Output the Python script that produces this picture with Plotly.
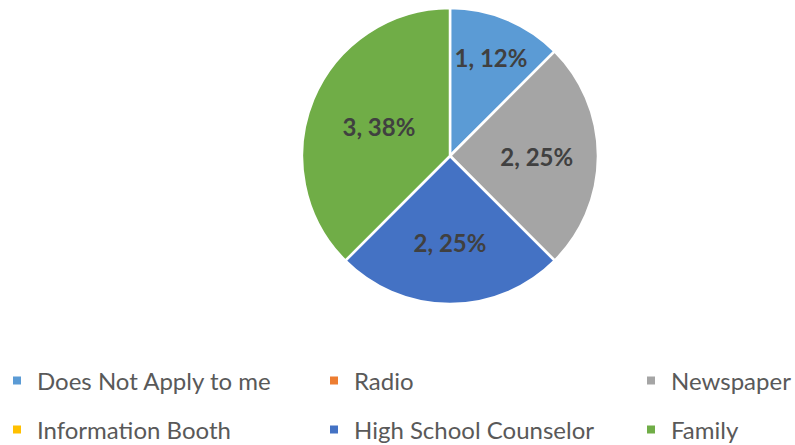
import plotly.graph_objects as go

categories = ["Does Not Apply to me", "Radio", "Newspaper",
              "Information Booth", "High School Counselor", "Family"]
values = [1, 0, 2, 0, 2, 3]
colors = ["#5B9BD5", "#ED7D31", "#A5A5A5", "#FFC000", "#4472C4", "#70AD47"]

W, H = 795, 445
total = sum(values)
# percentage labels (round-half-even, as displayed in the source: 12.5 -> 12, 37.5 -> 38)
pct_labels = [f"{round(v / total * 100)}%" for v in values]
texttemplate = ["" if v == 0 else "%{value}, %{text}" for v in values]

fig = go.Figure()
fig.add_trace(go.Pie(
    labels=categories, values=values, sort=False, direction="clockwise", rotation=0,
    marker=dict(colors=colors, line=dict(color="white", width=2.5)),
    text=pct_labels, texttemplate=texttemplate, textposition="inside",
    insidetextorientation="horizontal",
    textfont=dict(family="Lato", size=24, color="#404040", weight="bold"),
    domain=dict(x=[(450 - 148) / W, (450 + 148) / W], y=[1 - 304 / H, 1 - 8 / H]),
    showlegend=False, hoverinfo="label+value+percent",
))

# legend laid out in a 3-column x 2-row grid (one legend box per entry)
col_px = [-3, 314, 631]
row_px = [381, 430]
legend_common = dict(orientation="v", xanchor="left", yanchor="middle",
                     font=dict(family="Lato", size=24, color="#595959"),
                     bgcolor="rgba(0,0,0,0)", itemclick=False, itemdoubleclick=False)
layout_legends = {}
for i, (name, c) in enumerate(zip(categories, colors)):
    key = "legend" if i == 0 else f"legend{i + 1}"
    fig.add_trace(go.Scatter(
        x=[None], y=[None], mode="markers", name=name,
        marker=dict(symbol="square", size=8, color=c),
        legend=key, hoverinfo="skip",
    ))
    layout_legends[key] = dict(x=col_px[i % 3] / W, y=1 - row_px[i // 3] / H, **legend_common)

fig.update_layout(
    width=W, height=H, margin=dict(l=0, r=0, t=0, b=0, autoexpand=False),
    paper_bgcolor="white", plot_bgcolor="white",
    xaxis=dict(visible=False), yaxis=dict(visible=False),
    showlegend=True,
    **layout_legends,
)
fig.write_html("out.html", config={"displayModeBar": False},
               post_script="document.body.style.margin='0';")
